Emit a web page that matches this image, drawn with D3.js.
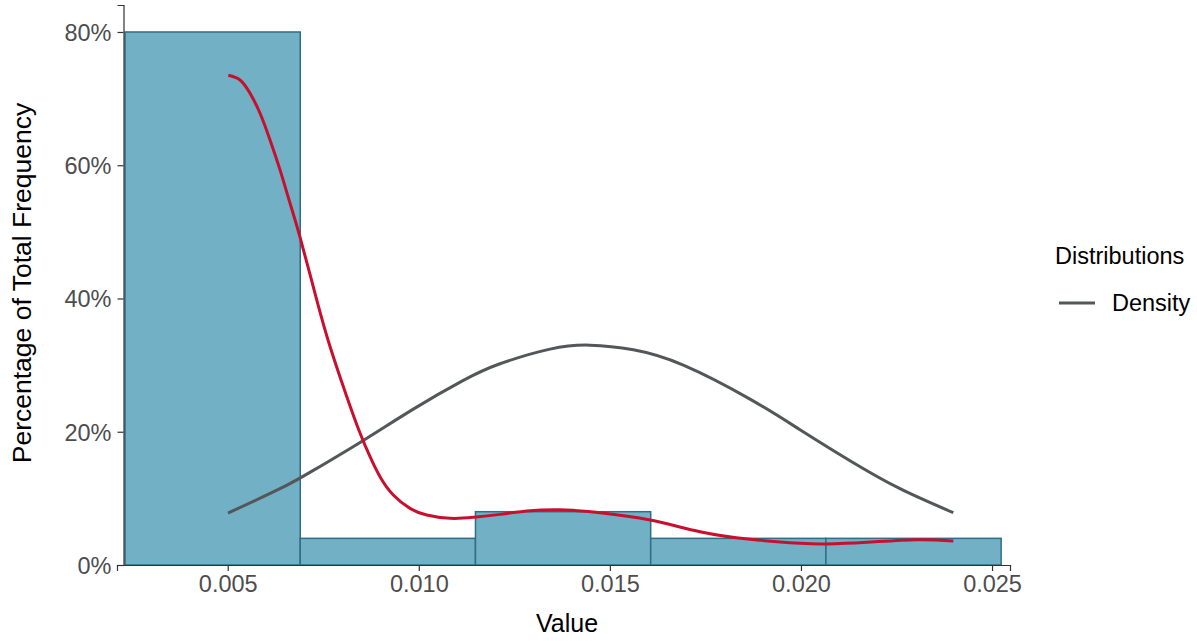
<!DOCTYPE html>
<html><head><meta charset="utf-8">
<script src="https://cdn.jsdelivr.net/npm/d3@7"></script>
<style>body{margin:0;background:#fff}svg{display:block;font-family:"Liberation Sans",Arial,sans-serif}</style>
</head><body><svg id="c" width="1197" height="641"></svg>
<script>
// Histogram bins (left edge values) and percentage of total
const binStarts = [0.002313, 0.006898, 0.011483, 0.016068, 0.020653];
const binWidth = 0.004585;
const binPercent = [80, 4, 8, 4, 4];
// Normal density curve (x value, percent)
const normalX = [0.005008,0.006369,0.00724,0.008548,0.009857,0.011165,0.012125,0.013434,0.014481,0.015614,0.016922,0.018667,0.019975,0.021284,0.022592,0.023987];
const normalY = [7.8,11.45,14.2,18.7,23.4,27.7,30.2,32.4,33.0,32.3,30.0,24.9,20.3,15.65,11.45,7.85];
// Kernel density curve (x value, percent)
const kdeX = [0.005016,0.005322,0.005584,0.005846,0.006107,0.006369,0.006631,0.006892,0.007329,0.007677,0.008114,0.008462,0.008724,0.008985,0.009333,0.00977,0.010207,0.010817,0.011427,0.012125,0.012824,0.013695,0.014742,0.016051,0.017359,0.018667,0.019975,0.020674,0.021721,0.023029,0.023987];
const kdeY = [73.5,72.8,70.8,67.8,63.8,59.3,54.3,49.2,39.8,32.8,25.3,19.8,16.25,13.25,10.5,8.5,7.5,7.0,7.15,7.6,8.1,8.3,7.85,6.75,5.0,3.86,3.26,3.15,3.41,3.8,3.6];
const xTicks = [0.005, 0.010, 0.015, 0.020, 0.025];
const yTicks = [0, 20, 40, 60, 80];

const svg = d3.select("#c");
const x = d3.scaleLinear().domain([0.002103, 0.02547]).range([117, 1010]);
const y = d3.scaleLinear().domain([0, 84.05]).range([565, 5]);

// bars
svg.append("g").selectAll("rect").data(binStarts).join("rect")
  .attr("x", d => x(d)).attr("width", d => x(d + binWidth) - x(d))
  .attr("y", (d,i) => y(binPercent[i])).attr("height", (d,i) => y(0) - y(binPercent[i]))
  .attr("fill", "#71b0c5").attr("stroke", "#2f6e84").attr("stroke-width", 1.5);

const line = d3.line().x(d => x(d[0])).y(d => y(d[1])).curve(d3.curveNatural);
svg.append("path").datum(normalX.map((v,i)=>[v, normalY[i]])).attr("d", line)
  .attr("fill","none").attr("stroke","#545759").attr("stroke-width",3);
svg.append("path").datum(kdeX.map((v,i)=>[v, kdeY[i]])).attr("d", line)
  .attr("fill","none").attr("stroke","#c8102e").attr("stroke-width",3);

// axes
const xa = svg.append("g").attr("transform","translate(0,565)")
  .call(d3.axisBottom(x).tickValues(xTicks).tickFormat(d3.format(".3f")).tickSizeOuter(0).tickSize(6).tickPadding(4));
const ya = svg.append("g").attr("transform","translate(123.5,0)")
  .call(d3.axisLeft(y).tickValues(yTicks).tickFormat(d => d + "%").tickSizeOuter(0).tickSize(6).tickPadding(6));
[xa, ya].forEach(a => {
  a.select(".domain").attr("stroke","#333").attr("stroke-width",1.2);
  a.selectAll(".tick line").attr("stroke","#333").attr("stroke-width",1.2);
  a.selectAll(".tick text").attr("fill","#4d4d4d").style("font-size","23.5px").style("font-family","Liberation Sans, Arial, sans-serif");
});
ya.selectAll(".tick text").attr("dy","0.36em");

// titles
svg.append("text").attr("x", 567).attr("y", 632).attr("text-anchor","middle")
  .style("font-size","25px").attr("fill","#000").text("Value");
svg.append("text").attr("transform","translate(31,283) rotate(-90)").attr("text-anchor","middle")
  .style("font-size","26.5px").attr("fill","#000").text("Percentage of Total Frequency");

// legend
svg.append("text").attr("x",1055).attr("y",264).style("font-size","23.5px").attr("fill","#000").text("Distributions");
svg.append("line").attr("x1",1059).attr("x2",1095).attr("y1",303).attr("y2",303).attr("stroke","#545759").attr("stroke-width",3);
svg.append("text").attr("x",1112).attr("y",311).style("font-size","23.5px").attr("fill","#000").text("Density");
</script></body></html>
